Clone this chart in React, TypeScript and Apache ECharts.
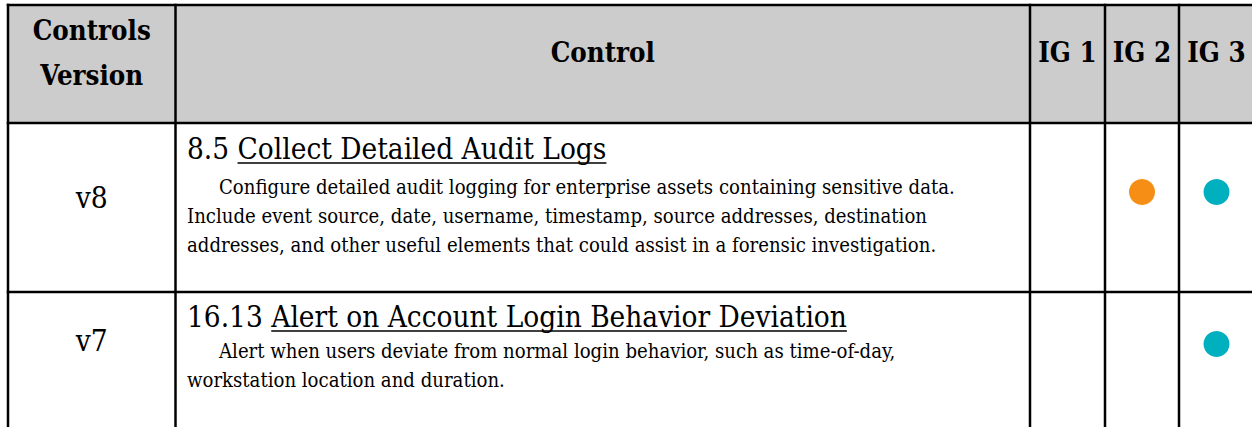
import React, { useEffect, useRef } from "react";
import * as echarts from "echarts";

// ---- data ----
const headerLines: string[][] = [["Controls", "Version"], ["Control"], ["IG 1"], ["IG 2"], ["IG 3"]];
const versions = ["v8", "v7"];
const controlIds = ["8.5", "16.13"];
const controlTitles = ["Collect Detailed Audit Logs", "Alert on Account Login Behavior Deviation"];
const descriptionLines: string[][] = [
  [
    "Configure detailed audit logging for enterprise assets containing sensitive data.",
    "Include event source, date, username, timestamp, source addresses, destination",
    "addresses, and other useful elements that could assist in a forensic investigation.",
  ],
  [
    "Alert when users deviate from normal login behavior, such as time-of-day,",
    "workstation location and duration.",
  ],
];
const ig1 = [false, false];
const ig2 = [true, false];
const ig3 = [true, true];

// ---- layout & style ----
const FAMILY = '"DejaVu Serif Condensed", "DejaVu Serif"';
const COL_X = [8, 175.5, 1030, 1105, 1179, 1254];
const ROW_Y = [5, 123, 292];
const BOTTOM = 440;
const LINE_W = 2.5;
const HEADER_FILL = "#cccccc";
const IG_COLORS = ["#00B0BF", "#F68D14", "#00B0BF"];
const CIRCLE_R = 13;
const CIRCLE_Y = [192, 344];
const VERSION_Y = [197.5, 341];
const TITLE_DY = [36.5, 35.5];
const BODY_DY = [71, 66];
const BODY_LH = 29;
const TEXT_X = 187;
const INDENT_X = 219;

function fitSize(pairs: [string, number][], weight: string): number {
  const ctx = document.createElement("canvas").getContext("2d")!;
  ctx.font = `${weight} 100px ${FAMILY}`;
  let s = 0;
  pairs.forEach(([t, w]) => {
    s += (100 * w) / ctx.measureText(t).width;
  });
  return s / pairs.length;
}
function measure(text: string, size: number, weight = "normal"): number {
  const ctx = document.createElement("canvas").getContext("2d")!;
  ctx.font = `${weight} ${size}px ${FAMILY}`;
  return ctx.measureText(text).width;
}

function txt(text: string, x: number, baseline: number, size: number, weight: string, align: string) {
  const y = baseline - 0.35 * size;
  return {
    type: "text",
    x,
    y,
    silent: true,
    style: {
      text,
      fontSize: size,
      fontFamily: FAMILY,
      fontWeight: weight,
      fill: "#000",
      align,
      verticalAlign: "middle",
      textAlign: align,
      textVerticalAlign: "middle",
    },
  };
}

export default function App() {
  const ref = useRef<HTMLDivElement>(null);
  useEffect(() => {
    if (!ref.current) return;
    const chart = echarts.init(ref.current, undefined, { renderer: "svg" });

    const headSize = fitSize([["Controls", 123], ["Version", 116], ["IG 1", 55], ["IG 3", 52]], "bold");
    const titleSize = fitSize(
      [
        [`${controlIds[0]} ${controlTitles[0]}`, 416],
        [`${controlIds[1]} ${controlTitles[1]}`, 666],
      ],
      "normal"
    );
    const bodySize = fitSize(
      [
        [descriptionLines[0][0], 771],
        [descriptionLines[0][1], 716],
        [descriptionLines[0][2], 777],
        [descriptionLines[1][0], 643],
      ],
      "normal"
    );
    const verSize = fitSize([["v8", 32]], "normal");

    const els: any[] = [];
    els.push({
      type: "rect",
      shape: { x: COL_X[0], y: ROW_Y[0], width: COL_X[5] - COL_X[0], height: ROW_Y[1] - ROW_Y[0] },
      style: { fill: HEADER_FILL },
      silent: true,
    });

    headerLines.forEach((lines, i) => {
      const cx = (COL_X[i] + COL_X[i + 1]) / 2;
      if (lines.length === 2) {
        els.push(txt(lines[0], cx, 39.5, headSize, "bold", "center"));
        els.push(txt(lines[1], cx, 84.5, headSize, "bold", "center"));
      } else {
        els.push(txt(lines[0], cx, 61.5, headSize, "bold", "center"));
      }
    });

    versions.forEach((v, r) => {
      const top = ROW_Y[r + 1];
      const vcx = (COL_X[0] + COL_X[1]) / 2;
      els.push(txt(v, vcx, VERSION_Y[r] + 0.36 * verSize, verSize, "normal", "center"));

      const prefix = `${controlIds[r]} `;
      const tb = top + TITLE_DY[r];
      els.push(txt(prefix + controlTitles[r], TEXT_X, tb, titleSize, "normal", "left"));
      const ux0 = TEXT_X + measure(prefix, titleSize);
      const ux1 = TEXT_X + measure(prefix + controlTitles[r], titleSize);
      els.push({
        type: "line",
        shape: { x1: ux0, y1: tb + 3.5, x2: ux1, y2: tb + 3.5 },
        style: { stroke: "#000", lineWidth: 1.5 },
        silent: true,
      });

      descriptionLines[r].forEach((line, k) => {
        els.push(
          txt(line, k === 0 ? INDENT_X : TEXT_X, top + BODY_DY[r] + k * BODY_LH, bodySize, "normal", "left")
        );
      });

      const flags = [ig1[r], ig2[r], ig3[r]];
      flags.forEach((f, j) => {
        if (!f) return;
        els.push({
          type: "circle",
          shape: { cx: (COL_X[j + 2] + COL_X[j + 3]) / 2, cy: CIRCLE_Y[r], r: CIRCLE_R },
          style: { fill: IG_COLORS[j] },
          silent: true,
        });
      });
    });

    const hl = (y: number) => ({
      type: "line",
      shape: { x1: COL_X[0] - LINE_W / 2, y1: y, x2: COL_X[5] + 2, y2: y },
      style: { stroke: "#000", lineWidth: LINE_W },
      silent: true,
    });
    const vl = (x: number) => ({
      type: "line",
      shape: { x1: x, y1: ROW_Y[0] - LINE_W / 2, x2: x, y2: BOTTOM },
      style: { stroke: "#000", lineWidth: LINE_W },
      silent: true,
    });
    ROW_Y.forEach((y) => els.push(hl(y)));
    COL_X.forEach((x) => els.push(vl(x)));

    chart.setOption({
      animation: false,
      backgroundColor: "#ffffff",
      graphic: { elements: els },
    });
    return () => chart.dispose();
  }, []);

  return (
    <div
      ref={ref}
      style={{ position: "fixed", left: 0, top: 0, width: 1252, height: 427, background: "#fff" }}
    />
  );
}
